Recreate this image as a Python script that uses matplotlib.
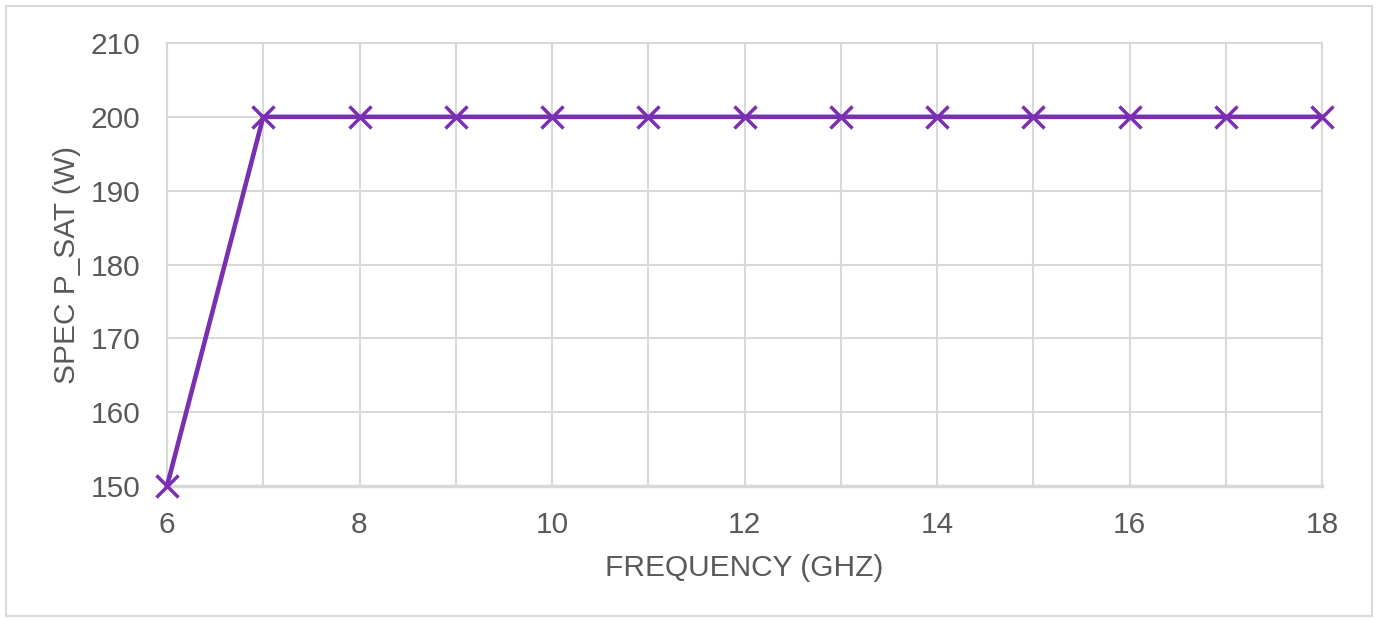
import matplotlib.pyplot as plt
from matplotlib.patches import Rectangle

freq = [6, 7, 8, 9, 10, 11, 12, 13, 14, 15, 16, 17, 18]
psat = [150, 200, 200, 200, 200, 200, 200, 200, 200, 200, 200, 200, 200]

plt.rcParams['font.family'] = ['Liberation Sans', 'DejaVu Sans']
gray = '#595959'
purple = '#7a2fb2'

fig = plt.figure(figsize=(13.77, 6.22), dpi=100)
fig.patches.append(Rectangle((6 / 1377, 6 / 622), 1366 / 1377, 610 / 622,
                             transform=fig.transFigure, fill=False,
                             edgecolor='#d9d9d9', linewidth=1.5))
ax = fig.add_axes([167 / 1377, 1 - 486 / 622, 1155 / 1377, 443 / 622])

ax.plot(freq, psat, color=purple, linewidth=3.3, marker='x',
        markersize=16, markeredgewidth=2.5, clip_on=False, zorder=3)

ax.set_xlim(6, 18)
ax.set_ylim(150, 210)
ax.set_xticks(range(6, 19, 2))
ax.set_xticks(range(6, 19), minor=True)
ax.set_yticks(range(150, 211, 10))
ax.grid(True, which='both', color='#d9d9d9', linewidth=1.5)
ax.set_axisbelow(True)
for s in ax.spines.values():
    s.set_color('#d9d9d9')
    s.set_linewidth(1.5)
ax.spines['bottom'].set_linewidth(2.5)
ax.tick_params(which='both', length=0, labelsize=21.5, labelcolor=gray)
ax.tick_params(axis='x', pad=18)
ax.tick_params(axis='y', pad=19)

ax.set_xlabel('FREQUENCY (GHZ)', fontsize=21.5, color=gray, labelpad=11)
ax.set_ylabel('SPEC P_SAT (W)', fontsize=21.5, color=gray, labelpad=7)

fig.savefig('out.png', dpi=100)
